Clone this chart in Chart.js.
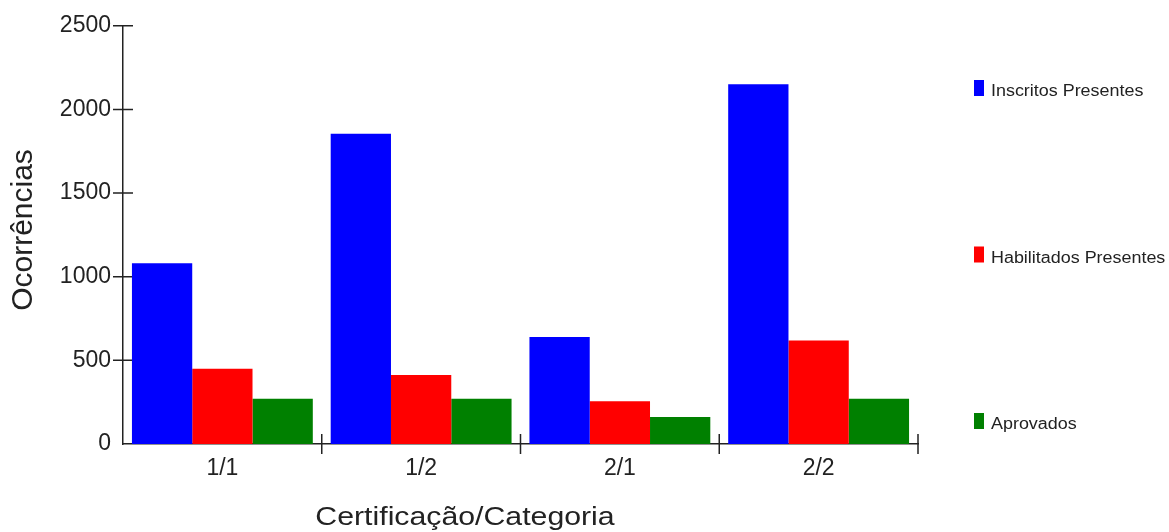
<!DOCTYPE html>
<html>
<head>
<meta charset="utf-8">
<script src="https://cdn.jsdelivr.net/npm/chart.js@4/dist/chart.umd.min.js"></script>
<style>
    html, body { margin: 0; padding: 0; background: #fff; }
    #wrap { width: 1169px; height: 532px; }
</style>
</head>
<body>
<div id="wrap"><canvas id="chart" width="1169" height="532"></canvas></div>
<script>
// data
const categories = ["1/1", "1/2", "2/1", "2/2"];
const inscritos = [1080, 1855, 640, 2150];
const habilitados = [450, 413, 255, 618];
const aprovados = [271, 271, 162, 271];
const seriesNames = ["Inscritos Presentes", "Habilitados Presentes", "Aprovados"];
const seriesColors = ["#0000ff", "#ff0000", "#008000"];
const yTicks = [0, 500, 1000, 1500, 2000, 2500];

const xTitle = "Certificação/Categoria";
const yTitle = "Ocorrências";
const axisColor = "#222";
const fontFamily = "'Liberation Sans', Arial, sans-serif";

// draws text stretched horizontally
function drawText(ctx, text, x, y, size, sx) {
    ctx.save();
    ctx.translate(x, y);
    ctx.scale(sx, 1);
    ctx.font = size + "px " + fontFamily;
    ctx.fillText(text, 0, 0);
    ctx.restore();
}

// tick marks crossing the axes, drawn under the bars
const axisTicks = {
    id: "axisTicks",
    beforeDatasetsDraw(chart) {
        const ctx = chart.ctx;
        const x = chart.scales.x;
        const y = chart.scales.y;
        ctx.save();
        ctx.strokeStyle = axisColor;
        ctx.lineWidth = 1.5;
        ctx.beginPath();
        y.ticks.forEach(t => {
            if (t.value === 0) return;
            const py = y.getPixelForValue(t.value);
            ctx.moveTo(y.right - 10, py);
            ctx.lineTo(y.right + 10, py);
        });
        for (let i = 1; i <= categories.length; i++) {
            const px = x.getPixelForValue(i - 0.5);
            ctx.moveTo(px, x.top - 10);
            ctx.lineTo(px, x.top + 10);
        }
        ctx.stroke();
        ctx.restore();
    }
};

// axis titles and legend at the right
const extras = {
    id: "extras",
    afterDraw(chart) {
        const ctx = chart.ctx;
        ctx.save();
        ctx.fillStyle = axisColor;
        ctx.textBaseline = "middle";

        ctx.textAlign = "center";
        drawText(ctx, xTitle, 465, 518, 25, 1.21);

        ctx.save();
        ctx.translate(24, 230);
        ctx.rotate(-Math.PI / 2);
        drawText(ctx, yTitle, 0, 0, 30, 1);
        ctx.restore();

        ctx.textAlign = "left";
        chart.data.datasets.forEach((ds, i) => {
            const top = 80 + i * 166.5;
            ctx.fillStyle = ds.backgroundColor;
            ctx.fillRect(974, top, 10, 16);
            ctx.fillStyle = axisColor;
            drawText(ctx, ds.label, 991, top + 12, 16, 1.12);
        });
        ctx.restore();
    }
};

const ctx = document.getElementById("chart").getContext("2d");
const datasets = [inscritos, habilitados, aprovados].map((d, i) => ({
    label: seriesNames[i],
    data: d,
    backgroundColor: seriesColors[i],
    borderWidth: 0,
    categoryPercentage: 0.91,
    barPercentage: 1.0
}));

new Chart(ctx, {
    type: "bar",
    data: { labels: categories, datasets: datasets },
    options: {
        responsive: false,
        animation: false,
        layout: { padding: { top: 21, right: 251, bottom: 0, left: 0 } },
        plugins: {
            legend: { display: false },
            tooltip: { enabled: false }
        },
        scales: {
            x: {
                grid: { display: false, drawTicks: false },
                border: { display: true, color: axisColor, width: 1.5 },
                ticks: {
                    color: axisColor,
                    padding: 11,
                    font: { family: fontFamily, size: 23 }
                },
                afterFit: s => { s.height = 88; }
            },
            y: {
                min: 0,
                max: 2500,
                afterBuildTicks: s => { s.ticks = yTicks.map(v => ({ value: v })); },
                grid: { display: false, drawTicks: false },
                border: { display: true, color: axisColor, width: 1.5 },
                ticks: {
                    color: axisColor,
                    padding: 12,
                    font: { family: fontFamily, size: 23 },
                    callback: v => String(v)
                },
                afterFit: s => { s.width = 123; }
            }
        }
    },
    plugins: [axisTicks, extras]
});
</script>
</body>
</html>
